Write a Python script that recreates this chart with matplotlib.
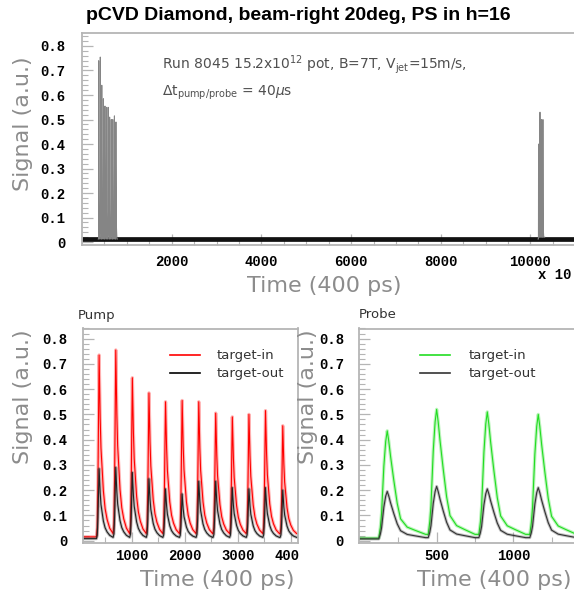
import numpy as np
import matplotlib.pyplot as plt
from matplotlib.patches import Rectangle

# ---- data ----
# pump window (bottom left), time in 400 ps units
pump_peak_t = [386, 700, 1012, 1325, 1637, 1950, 2263, 2582, 2895, 3208, 3520, 3845]
pump_in_peak = [0.735, 0.755, 0.645, 0.585, 0.55, 0.555, 0.55, 0.505, 0.49, 0.50, 0.515, 0.455]
pump_out_peak = [0.285, 0.29, 0.27, 0.245, 0.205, 0.185, 0.235, 0.235, 0.21, 0.205, 0.21, 0.20]
pump_in_base = [0.015, 0.028]    # before first pulse, between pulses
pump_out_base = [0.008, 0.013]

# probe window (bottom right)
probe_peak_t = [178, 500, 830, 1162]
probe_in_peak = [0.435, 0.52, 0.51, 0.50]
probe_out_peak = [0.195, 0.215, 0.205, 0.21]
probe_in_base = [0.01, 0.025]
probe_out_base = [0.007, 0.012]

# measured pulse shapes (time offset from peak, fraction of peak height)
pump_shape_t = [-50, -35, -22, -12, -5, 0, 8, 20, 35, 56, 80, 113, 150, 200, 262]
pump_shape_v = [0, 0.05, 0.3, 0.65, 0.92, 1.0, 0.85, 0.65, 0.48, 0.37, 0.24, 0.14, 0.08, 0.03, 0]
probe_shape_t = [-55, -45, -37, -22, -10, 0, 10, 22, 43, 65, 87, 130, 180, 250]
probe_shape_v = [0, 0.1, 0.23, 0.67, 0.9, 1.0, 0.9, 0.75, 0.52, 0.3, 0.15, 0.07, 0.04, 0]

# full record (top), axis in units of 10 x 400 ps
full_pump_t = [372, 407, 442, 477, 512, 547, 582, 617, 652, 687, 722, 757]
full_pump_peak = [0.74, 0.755, 0.64, 0.585, 0.555, 0.55, 0.55, 0.51, 0.50, 0.50, 0.515, 0.49]
full_probe_t = [10180, 10212, 10245, 10278]
full_probe_peak = [0.40, 0.53, 0.50, 0.50]
full_base = 0.012


def trace(peaks, tops, base, shape_t, shape_v, t0, t1, tscale=1.0):
    xs, ys = [t0], [base[0]]
    b = base[0]
    for tp, top in zip(peaks, tops):
        for dt, v in zip(shape_t, shape_v):
            bb = b if dt <= 0 else base[1]
            xs.append(tp + dt * tscale)
            ys.append(bb + (top - bb) * v)
        b = base[1]
    xs.append(t1)
    ys.append(base[1])
    return np.array(xs), np.array(ys)


W, H = 574, 595
def fx(x): return x / W
def fy(y): return 1 - y / H

tick_font = dict(family='Liberation Mono', weight='bold', size=10)
lab_kw = dict(family='DejaVu Sans', color='#8c8c8c', fontsize=16)
frame_c = '#b5b5b5'


def style(ax, pad_y, pad_x):
    for s in ax.spines.values():
        s.set_color(frame_c)
        s.set_linewidth(1.3)
    ax.tick_params(which='both', direction='in', colors=frame_c, top=False, right=False)
    ax.tick_params(which='major', length=8, width=0.9)
    ax.tick_params(which='minor', length=4, width=0.8)
    ax.tick_params(axis='y', pad=pad_y, labelcolor='black')
    ax.tick_params(axis='x', pad=pad_x, labelcolor='black')
    yt = [0, 0.1, 0.2, 0.3, 0.4, 0.5, 0.6, 0.7, 0.8]
    ax.set_yticks(yt)
    ax.set_yticklabels(['0'] + ['%.1f' % v for v in yt[1:]], fontdict=tick_font)
    ax.set_yticks(np.arange(0, 0.86, 0.02), minor=True)


fig = plt.figure(figsize=(W / 100, H / 100), dpi=100)
fig.text(fx(298), fy(15), 'pCVD Diamond, beam-right 20deg, PS in h=16',
         ha='center', va='center', fontsize=14, fontweight='bold', family='Liberation Sans')

# ---- top: full record ----
ax0 = fig.add_axes([fx(82), fy(245), (576 - 82) / W, (245 - 33) / H])
ax0.plot([0, 11015], [full_base, full_base], color='#111111', lw=3.4, solid_capstyle='butt')
xs, ys = trace(full_pump_t, full_pump_peak, [full_base, full_base], pump_shape_t, pump_shape_v,
               full_pump_t[0] - 10, full_pump_t[-1] + 30, tscale=0.09)
ax0.fill_between(xs, full_base, ys, color='#c4c4c4', lw=0)
ax0.plot(xs, ys, color='#858585', lw=0.7)
xs, ys = trace(full_probe_t, full_probe_peak, [full_base, 0.02], probe_shape_t, probe_shape_v,
               full_probe_t[0] - 10, full_probe_t[-1] + 40, tscale=0.07)
ax0.fill_between(xs, full_base, ys, color='#c4c4c4', lw=0)
ax0.plot(xs, ys, color='#858585', lw=0.7)
ax0.set_xlim(0, 11015)
ax0.set_ylim(-0.012, 0.853)
style(ax0, 12, 7.5)
ax0.spines['right'].set_visible(False)
xt = [2000, 4000, 6000, 8000, 10000]
ax0.set_xticks(xt)
ax0.set_xticklabels([str(v) for v in xt], fontdict=tick_font)
ax0.set_xticks(np.arange(0, 11001, 500), minor=True)
fig.text(fx(572), fy(275), 'x 10', ha='right', va='center', **tick_font)
fig.text(fx(23), fy(124), 'Signal (a.u.)', rotation=90, ha='center', va='center', **lab_kw)
fig.text(fx(324), fy(286), 'Time (400 ps)', ha='center', va='center', **lab_kw)
fig.text(fx(162), fy(65), r'Run 8045 15.2x10$^{12}$ pot, B=7T, V$_{\mathrm{jet}}$=15m/s,',
         ha='left', va='center', fontsize=10, color='#505050')
fig.text(fx(162), fy(93), r'$\Delta$t$_{\mathrm{pump/probe}}$ = 40$\mu$s',
         ha='left', va='center', fontsize=10, color='#505050')

# ---- bottom left: pump ----
ax1 = fig.add_axes([fx(82.7), fy(542.7), (298 - 82.7) / W, (542.7 - 328.5) / H])
xs, ys = trace(pump_peak_t, pump_in_peak, pump_in_base, pump_shape_t, pump_shape_v, 77, 4132)
ax1.plot(xs, ys, color='#ff0000', lw=2.4, alpha=0.3)
ax1.plot(xs, ys, color='#ff0000', lw=0.8)
xs, ys = trace(pump_peak_t, pump_out_peak, pump_out_base, pump_shape_t, pump_shape_v, 77, 4132)
ax1.plot(xs, ys, color='#222222', lw=2.2, alpha=0.3)
ax1.plot(xs, ys, color='#222222', lw=0.8)
ax1.set_xlim(77, 4132)
ax1.set_ylim(-0.008, 0.8)
style(ax1, 11, 4.5)
ax1.set_xticks([1000, 2000, 3000, 4000])
ax1.set_xticklabels(['1000', '2000', '3000', '4000'], fontdict=tick_font)
ax1.set_xticks(np.arange(500, 4132, 500), minor=True)
ax1.plot([0.405, 0.545], [0.876, 0.876], transform=ax1.transAxes, color='#ff0000', lw=1.2)
ax1.plot([0.405, 0.545], [0.792, 0.792], transform=ax1.transAxes, color='black', lw=1.2)
ax1.text(0.624, 0.876, 'target-in', transform=ax1.transAxes, va='center', fontsize=9.5, color='#333333')
ax1.text(0.624, 0.792, 'target-out', transform=ax1.transAxes, va='center', fontsize=9.5, color='#333333')
fig.text(fx(78), fy(315), 'Pump', ha='left', va='center', fontsize=9.5, color='#333333')
fig.text(fx(23), fy(397), 'Signal (a.u.)', rotation=90, ha='center', va='center', **lab_kw)
fig.text(fx(217), fy(580), 'Time (400 ps)', ha='center', va='center', **lab_kw)

# white pad edge hiding pump overflow
fig.add_artist(Rectangle((fx(299), 0), 1 - fx(299), fy(300), transform=fig.transFigure,
                         facecolor='white', edgecolor='none', zorder=0.5))

# ---- bottom right: probe ----
ax2 = fig.add_axes([fx(359.3), fy(542.7), (576 - 359.3) / W, (542.7 - 328.5) / H])
ax2.set_zorder(1)
xs, ys = trace(probe_peak_t, probe_in_peak, probe_in_base, probe_shape_t, probe_shape_v, -4, 1408)
ax2.plot(xs, ys, color='#22dd22', lw=2.4, alpha=0.3)
ax2.plot(xs, ys, color='#22dd22', lw=0.8)
xs, ys = trace(probe_peak_t, probe_out_peak, probe_out_base, probe_shape_t, probe_shape_v, -4, 1408)
ax2.plot(xs, ys, color='#333333', lw=2.2, alpha=0.3)
ax2.plot(xs, ys, color='#333333', lw=0.8)
ax2.set_xlim(-4, 1408)
ax2.set_ylim(-0.008, 0.8)
style(ax2, 11, 4.5)
ax2.spines['right'].set_visible(False)
ax2.set_xticks([500, 1000])
ax2.set_xticklabels(['500', '1000'], fontdict=tick_font)
ax2.set_xticks(np.arange(250, 1408, 250), minor=True)
ax2.plot([0.28, 0.418], [0.876, 0.876], transform=ax2.transAxes, color='#22dd22', lw=1.2)
ax2.plot([0.28, 0.418], [0.792, 0.792], transform=ax2.transAxes, color='#333333', lw=1.2)
ax2.text(0.506, 0.876, 'target-in', transform=ax2.transAxes, va='center', fontsize=9.5, color='#333333')
ax2.text(0.506, 0.792, 'target-out', transform=ax2.transAxes, va='center', fontsize=9.5, color='#333333')
fig.text(fx(359), fy(315), 'Probe', ha='left', va='center', fontsize=9.5, color='#333333')
fig.text(fx(308), fy(397), 'Signal (a.u.)', rotation=90, ha='center', va='center', zorder=2, **lab_kw)
fig.text(fx(494), fy(580), 'Time (400 ps)', ha='center', va='center', **lab_kw)

fig.savefig('out.png', dpi=100)
